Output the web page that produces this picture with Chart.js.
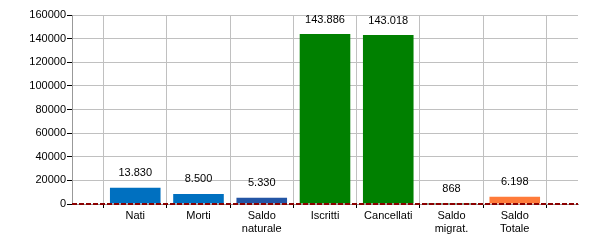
<!DOCTYPE html>
<html>
<head>
<meta charset="utf-8">
<script src="https://cdn.jsdelivr.net/npm/chart.js@4/dist/chart.umd.min.js"></script>
<style>
  body { margin: 0; background: #fff; }
  canvas { display: block; }
</style>
</head>
<body>
<canvas id="myChart" width="600" height="250"></canvas>
<script>
/***** data *****/
var categories = ['Nati', 'Morti', ['Saldo', 'naturale'], 'Iscritti', 'Cancellati', ['Saldo', 'migrat.'], ['Saldo', 'Totale']];
var values = [13830, 8500, 5330, 143886, 143018, 868, 6198];
var barColors = ['#0070c0', '#0070c0', '#2355a5', '#008000', '#008000', '#1f5a1f', '#ff7b3a'];
var yTicks = [0, 20000, 40000, 60000, 80000, 100000, 120000, 140000, 160000];

// empty slot at both ends, like the original axis
var labels = [''].concat(categories, ['']);
var barData = [null].concat(values, [null]);
var colors = ['#fff'].concat(barColors, ['#fff']);
var zeroLine = labels.map(function () { return 0; });

function fmt(v) {
    return String(v).replace(/\B(?=(\d{3})+(?!\d))/g, '.');
}

var valueLabels = {
    id: 'valueLabels',
    afterDatasetsDraw: function (chart) {
        var ctx = chart.ctx;
        var meta = chart.getDatasetMeta(1);
        ctx.save();
        ctx.font = '11px "Liberation Sans", Arial, sans-serif';
        ctx.fillStyle = '#000';
        ctx.textAlign = 'center';
        ctx.textBaseline = 'bottom';
        meta.data.forEach(function (el, i) {
            var v = barData[i];
            if (v === null) return;
            ctx.fillText(fmt(v), el.x, el.y - 9);
        });
        ctx.restore();
    }
};

Chart.defaults.font.family = '"Liberation Sans", Arial, sans-serif';
Chart.defaults.font.size = 11;
Chart.defaults.color = '#000';

var myChart = new Chart(document.getElementById('myChart'), {
    data: {
        labels: labels,
        datasets: [{
            type: 'line',
            data: zeroLine,
            borderColor: '#8b0000',
            borderWidth: 2,
            borderDash: [5, 2],
            pointRadius: 0,
            clip: false,
            order: 0
        }, {
            type: 'bar',
            data: barData,
            backgroundColor: colors,
            categoryPercentage: 0.8,
            barPercentage: 1,
            order: 1
        }]
    },
    options: {
        responsive: false,
        animation: false,
        devicePixelRatio: 1,
        layout: { padding: { top: 15, right: 22, bottom: 0, left: 0 } },
        plugins: {
            legend: { display: false },
            tooltip: { enabled: false }
        },
        scales: {
            x: {
                offset: false,
                grid: { color: '#c0c0c0', tickColor: '#000', tickLength: 4 },
                border: { color: '#999' },
                ticks: { padding: 2, maxRotation: 0, autoSkip: false, font: { lineHeight: 1.15 } },
                afterFit: function (scale) { scale.height = 46; }
            },
            y: {
                min: 0,
                max: 160000,
                afterBuildTicks: function (scale) {
                    scale.ticks = yTicks.map(function (v) { return { value: v }; });
                },
                grid: { color: '#c0c0c0', tickColor: '#000', tickLength: 5 },
                border: { color: '#999' },
                ticks: {
                    padding: 1,
                    callback: function (v) { return v; }
                },
                afterFit: function (scale) { scale.width = 72; }
            }
        }
    },
    plugins: [valueLabels]
});
</script>
</body>
</html>
